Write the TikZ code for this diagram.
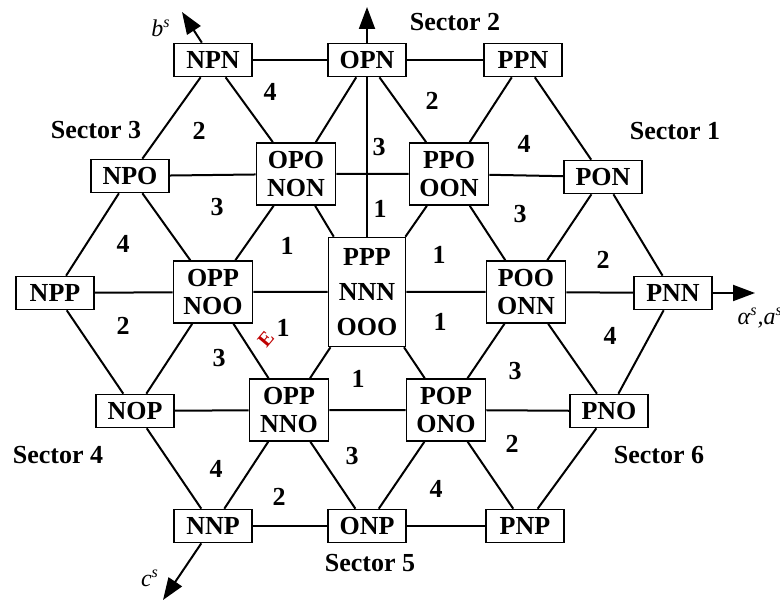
\documentclass[tikz,border=0pt]{standalone}
\usepackage{fontspec}
\setmainfont{Liberation Serif}
\usetikzlibrary{arrows.meta}

\begin{document}
\begin{tikzpicture}[x=0.5pt, y=-0.5pt, line width=1pt,
  vbox/.style={draw, fill=white, line width=0.8pt, inner sep=0pt, align=center,
    font=\fontsize{13pt}{14pt}\selectfont\bfseries, minimum width=39pt, minimum height=16.5pt},
  vbox2/.style={vbox, minimum width=39.5pt, minimum height=31pt},
  vbox3/.style={vbox, minimum width=38.5pt, minimum height=54.5pt},
  num/.style={font=\fontsize{13pt}{14pt}\selectfont\bfseries},
  axis/.style={-{Triangle[length=11pt,width=8pt]}}]
\useasboundingbox (0,0) rectangle (780,608);

% switching states
\node[vbox] (npn) at (213,60) {NPN};
\node[vbox] (opn) at (367,60) {OPN};
\node[vbox] (ppn) at (523,60) {PPN};
\node[vbox] (npo) at (130,176) {NPO};
\node[vbox2] (opo) at (296,174) {OPO\\NON};
\node[vbox2] (ppo) at (449,174) {PPO\\OON};
\node[vbox] (pon) at (603,177) {PON};
\node[vbox] (npp) at (55,293) {NPP};
\node[vbox2] (noo) at (213,292) {OPP\\NOO};
\node[vbox3] (ppp) at (367,292) {PPP\\[3.5pt]NNN\\[3.5pt]OOO};
\node[vbox2] (poo) at (526,292) {POO\\ONN};
\node[vbox] (pnn) at (673,293) {PNN};
\node[vbox] (nop) at (135,411) {NOP};
\node[vbox2] (nno) at (289,410) {OPP\\NNO};
\node[vbox2] (pop) at (446,410) {POP\\ONO};
\node[vbox] (pno) at (609,411) {PNO};
\node[vbox] (nnp) at (213,526) {NNP};
\node[vbox] (onp) at (367,526) {ONP};
\node[vbox] (pnp) at (525,526) {PNP};

% axis tips
\coordinate (atip) at (755,293);
\coordinate (btip) at (182,12);
\coordinate (ctip) at (163,600);
\coordinate (vtip) at (367,7);

% horizontal lines
\draw (npn) -- (opn) -- (ppn);
\draw (npo) -- (opo) -- (ppo) -- (pon);
\draw (npp) -- (noo) -- (ppp) -- (poo) -- (pnn);
\draw (nop) -- (nno) -- (pop) -- (pno);
\draw (nnp) -- (onp) -- (pnp);

% diagonal lines
\draw (npn) -- (npo); \draw (npn) -- (opo);
\draw (opn) -- (opo); \draw (opn) -- (ppo);
\draw (ppn) -- (ppo); \draw (ppn) -- (pon);
\draw (npo) -- (npp); \draw (npo) -- (noo);
\draw (opo) -- (noo); \draw (opo) -- (ppp);
\draw (ppo) -- (ppp); \draw (ppo) -- (poo);
\draw (pon) -- (poo); \draw (pon) -- (pnn);
\draw (npp) -- (nop);
\draw (noo) -- (nop); \draw (noo) -- (nno);
\draw (ppp) -- (nno); \draw (ppp) -- (pop);
\draw (poo) -- (pop); \draw (poo) -- (pno);
\draw (pnn) -- (pno);
\draw (nop) -- (nnp);
\draw (nno) -- (nnp); \draw (nno) -- (onp);
\draw (pop) -- (onp); \draw (pop) -- (pnp);
\draw (pno) -- (pnp);

% axes
\draw (ppp) -- (opn);
\draw[axis] (opn) -- (vtip);
\draw[axis] (pnn) -- (atip);
\draw[axis] (npn) -- (btip);
\draw[axis] (nnp) -- (ctip);
\node[anchor=west, font=\fontsize{12pt}{12pt}\selectfont\itshape] (alab) at (730,318) {α\textsuperscript{s},a\textsuperscript{s}};
\node[font=\fontsize{12pt}{12pt}\selectfont\itshape] (blab) at (161,28) {b\textsuperscript{s}};
\node[font=\fontsize{12pt}{12pt}\selectfont\itshape] (clab) at (150,578) {c\textsuperscript{s}};

% sectors
\node[num] (sec1) at (675,131) {Sector 1};
\node[num] (sec2) at (455,22) {Sector 2};
\node[num] (sec3) at (96,130) {Sector 3};
\node[num] (sec4) at (58,455) {Sector 4};
\node[num] (sec5) at (370,563) {Sector 5};
\node[num] (sec6) at (659,455) {Sector 6};

% region numbers
\node[num] (r1) at (270,92) {4};
\node[num] (r2) at (432,101) {2};
\node[num] (r3) at (199,131) {2};
\node[num] (r4) at (379,147) {3};
\node[num] (r5) at (524,144) {4};
\node[num] (r6) at (217,207) {3};
\node[num] (r7) at (380,209) {1};
\node[num] (r8) at (520,214) {3};
\node[num] (r9) at (123,244) {4};
\node[num] (r10) at (287,246) {1};
\node[num] (r11) at (439,255) {1};
\node[num] (r12) at (603,260) {2};
\node[num] (r13) at (123,326) {2};
\node[num] (r14) at (283,328) {1};
\node[num] (r15) at (440,322) {1};
\node[num] (r16) at (610,336) {4};
\node[num] (r17) at (219,358) {3};
\node[num] (r18) at (358,379) {1};
\node[num] (r19) at (515,371) {3};
\node[num] (r20) at (216,469) {4};
\node[num] (r21) at (352,456) {3};
\node[num] (r22) at (512,444) {2};
\node[num] (r23) at (279,497) {2};
\node[num] (r24) at (436,489) {4};
\node[text=red!75!black, rotate=50, font=\fontsize{10pt}{10pt}\selectfont\bfseries] (emark) at (266,339) {E};
\end{tikzpicture}
\end{document}
